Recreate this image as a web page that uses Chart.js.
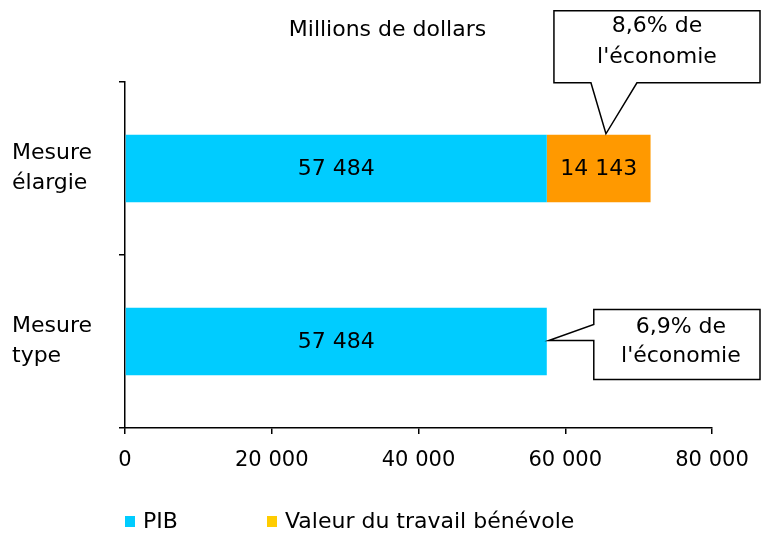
<!DOCTYPE html>
<html>
<head>
<meta charset="utf-8">
<script src="https://cdn.jsdelivr.net/npm/chart.js@4/dist/chart.umd.min.js"></script>
<style>
html,body{margin:0;padding:0;background:#fff;}
#wrap{width:763px;height:533px;}
</style>
</head>
<body>
<div id="wrap"><canvas id="c" width="763" height="533"></canvas></div>
<script>
const categories = [['Mesure', 'élargie'], ['Mesure', 'type']];
const seriesNames = ['PIB', 'Valeur du travail bénévole'];
const pibValues = [57484, 57484];
const benevoleValues = [14143, null];
const xTicks = [0, 20000, 40000, 60000, 80000];
const barColors = ['#00CCFF', '#FF9900'];
const legendColors = ['#00CCFF', '#FFCC00'];
const callout1Lines = ['8,6% de', "l'économie"];
const callout2Lines = ['6,9% de', "l'économie"];
const titleText = 'Millions de dollars';

const FONT = '"DejaVu Sans", Verdana, sans-serif';
const FS = 22;

function fmt(v) {
  return String(v).replace(/\B(?=(\d{3})+(?!\d))/g, ' ');
}

const overlay = {
  id: 'overlay',
  afterDatasetsDraw(chart) {
    const ctx = chart.ctx;
    ctx.save();
    ctx.font = FS + 'px ' + FONT;
    ctx.fillStyle = '#000';
    ctx.textAlign = 'center';
    ctx.textBaseline = 'middle';
    chart.data.datasets.forEach((ds, di) => {
      const meta = chart.getDatasetMeta(di);
      meta.data.forEach((bar, i) => {
        const v = ds.data[i];
        if (v == null) return;
        ctx.fillText(fmt(v), (bar.x + bar.base) / 2, bar.y + 1);
      });
    });
    ctx.restore();
  },
  afterDraw(chart) {
    const ctx = chart.ctx;
    const W = chart.width;
    ctx.save();
    ctx.lineWidth = 1.5;
    ctx.strokeStyle = '#000';
    ctx.fillStyle = '#fff';
    ctx.font = FS + 'px ' + FONT;
    ctx.textAlign = 'center';
    ctx.textBaseline = 'middle';

    // title
    ctx.fillStyle = '#000';
    ctx.fillText(titleText, W / 2 + 6, 30);

    // callout 1 (above orange bar)
    const ob = chart.getDatasetMeta(1).data[0];
    const t1x = ob.base + 0.57 * (ob.x - ob.base);
    const t1y = ob.y - ob.height / 2 - 1;
    const b1 = {l: t1x - 52, r: W - 3, t: t1y - 123, b: t1y - 51};
    ctx.fillStyle = '#fff';
    ctx.beginPath();
    ctx.moveTo(b1.l, b1.t);
    ctx.lineTo(b1.r, b1.t);
    ctx.lineTo(b1.r, b1.b);
    ctx.lineTo(t1x + 31, b1.b);
    ctx.lineTo(t1x, t1y);
    ctx.lineTo(t1x - 15, b1.b);
    ctx.lineTo(b1.l, b1.b);
    ctx.closePath();
    ctx.fill();
    ctx.stroke();
    ctx.fillStyle = '#000';
    const c1x = (b1.l + b1.r) / 2;
    ctx.fillText(callout1Lines[0], c1x, b1.t + 16);
    ctx.fillText(callout1Lines[1], c1x, b1.t + 47);

    // callout 2 (right of bottom bar)
    const bb = chart.getDatasetMeta(0).data[1];
    const t2x = bb.x + 2;
    const t2y = bb.y - 1;
    const b2 = {l: t2x + 45, r: W - 3, t: t2y - 31, b: t2y + 39};
    ctx.fillStyle = '#fff';
    ctx.beginPath();
    ctx.moveTo(b2.l, b2.t);
    ctx.lineTo(b2.r, b2.t);
    ctx.lineTo(b2.r, b2.b);
    ctx.lineTo(b2.l, b2.b);
    ctx.lineTo(b2.l, t2y);
    ctx.lineTo(t2x, t2y);
    ctx.lineTo(b2.l, t2y - 16);
    ctx.closePath();
    ctx.fill();
    ctx.stroke();
    ctx.fillStyle = '#000';
    const c2x = (b2.l + b2.r) / 2 + 4;
    ctx.fillText(callout2Lines[0], c2x, b2.t + 18);
    ctx.fillText(callout2Lines[1], c2x, b2.t + 47);

    // legend
    const ca = chart.chartArea;
    const ly = 521;
    const lx = [ca.left, ca.left + 142];
    ctx.textAlign = 'left';
    seriesNames.forEach((name, i) => {
      ctx.fillStyle = legendColors[i];
      ctx.fillRect(lx[i], ly - 5, 10, 11);
      ctx.fillStyle = '#000';
      ctx.fillText(name, lx[i] + 18, ly + 1);
    });
    ctx.restore();
  }
};

new Chart(document.getElementById('c'), {
  type: 'bar',
  data: {
    labels: categories,
    datasets: [
      {label: seriesNames[0], data: pibValues, backgroundColor: barColors[0]},
      {label: seriesNames[1], data: benevoleValues, backgroundColor: barColors[1]}
    ]
  },
  options: {
    indexAxis: 'y',
    responsive: false,
    animation: false,
    devicePixelRatio: 1,
    layout: {padding: {left: 12, right: 51, top: 82, bottom: 0}},
    datasets: {bar: {categoryPercentage: 1, barPercentage: 0.39, borderWidth: 0}},
    plugins: {
      legend: {display: false},
      tooltip: {enabled: false},
      title: {display: false}
    },
    scales: {
      x: {
        stacked: true,
        min: 0,
        max: 80000,
        afterBuildTicks(s) { s.ticks = xTicks.map(v => ({value: v})); },
        afterFit(s) { s.height = 105; },
        ticks: {
          color: '#000',
          font: {family: FONT, size: 21},
          padding: 14,
          maxRotation: 0,
          callback: v => fmt(v)
        },
        grid: {drawOnChartArea: false, tickLength: 6, color: '#000', lineWidth: 1.5},
        border: {color: '#000', width: 1.5}
      },
      y: {
        stacked: true,
        afterFit(s) { s.width = 113; },
        ticks: {
          color: '#000',
          font: {family: FONT, size: FS, lineHeight: 1.35},
          crossAlign: 'far',
          padding: 8
        },
        grid: {drawOnChartArea: false, offset: true, tickLength: 6, color: '#000', lineWidth: 1.5},
        border: {color: '#000', width: 1.5}
      }
    }
  },
  plugins: [overlay]
});
</script>
</body>
</html>
